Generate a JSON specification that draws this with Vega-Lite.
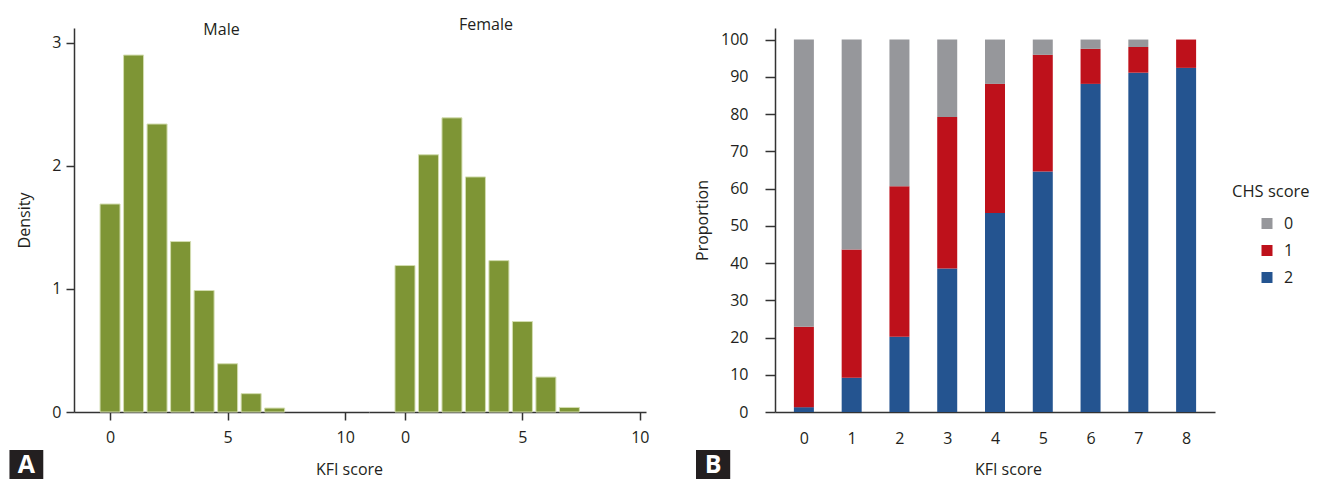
{
  "$schema": "https://vega.github.io/schema/vega-lite/v6.json",
  "padding": {"left": 9, "top": 16, "right": 0, "bottom": 0},
  "background": "white",
  "config": {
    "font": "Open Sans",
    "view": {"stroke": null},
    "axis": {
      "grid": false,
      "domainColor": "#333333",
      "domainWidth": 1.5,
      "tickColor": "#333333",
      "tickWidth": 1.5,
      "labelColor": "#231F20",
      "titleColor": "#231F20",
      "labelFontSize": 16,
      "titleFontSize": 16,
      "titleFontWeight": "normal",
      "labelFont": "Open Sans",
      "titleFont": "Open Sans",
      "labelOverlap": false
    },
    "legend": {"labelFont": "Open Sans", "titleFont": "Open Sans"},
    "title": {"font": "Open Sans"}
  },
  "datasets": {
    "hist": [
      {"sex": "Male", "kfi": 0, "density": 1.69},
      {"sex": "Male", "kfi": 1, "density": 2.9},
      {"sex": "Male", "kfi": 2, "density": 2.34},
      {"sex": "Male", "kfi": 3, "density": 1.385},
      {"sex": "Male", "kfi": 4, "density": 0.987},
      {"sex": "Male", "kfi": 5, "density": 0.392},
      {"sex": "Male", "kfi": 6, "density": 0.149},
      {"sex": "Male", "kfi": 7, "density": 0.032},
      {"sex": "Female", "kfi": 0, "density": 1.19},
      {"sex": "Female", "kfi": 1, "density": 2.09},
      {"sex": "Female", "kfi": 2, "density": 2.39},
      {"sex": "Female", "kfi": 3, "density": 1.91},
      {"sex": "Female", "kfi": 4, "density": 1.23},
      {"sex": "Female", "kfi": 5, "density": 0.735},
      {"sex": "Female", "kfi": 6, "density": 0.284},
      {"sex": "Female", "kfi": 7, "density": 0.037}
    ],
    "prop": [
      {"kfi": 0, "chs": "2", "pct": 1.3}, {"kfi": 0, "chs": "1", "pct": 21.6}, {"kfi": 0, "chs": "0", "pct": 77.1},
      {"kfi": 1, "chs": "2", "pct": 9.2}, {"kfi": 1, "chs": "1", "pct": 34.4}, {"kfi": 1, "chs": "0", "pct": 56.4},
      {"kfi": 2, "chs": "2", "pct": 20.2}, {"kfi": 2, "chs": "1", "pct": 40.4}, {"kfi": 2, "chs": "0", "pct": 39.4},
      {"kfi": 3, "chs": "2", "pct": 38.5}, {"kfi": 3, "chs": "1", "pct": 40.7}, {"kfi": 3, "chs": "0", "pct": 20.8},
      {"kfi": 4, "chs": "2", "pct": 53.4}, {"kfi": 4, "chs": "1", "pct": 34.7}, {"kfi": 4, "chs": "0", "pct": 11.9},
      {"kfi": 5, "chs": "2", "pct": 64.6}, {"kfi": 5, "chs": "1", "pct": 31.3}, {"kfi": 5, "chs": "0", "pct": 4.1},
      {"kfi": 6, "chs": "2", "pct": 88.1}, {"kfi": 6, "chs": "1", "pct": 9.4}, {"kfi": 6, "chs": "0", "pct": 2.5},
      {"kfi": 7, "chs": "2", "pct": 91.1}, {"kfi": 7, "chs": "1", "pct": 6.9}, {"kfi": 7, "chs": "0", "pct": 2.0},
      {"kfi": 8, "chs": "2", "pct": 92.4}, {"kfi": 8, "chs": "1", "pct": 7.6}, {"kfi": 8, "chs": "0", "pct": 0}
    ],
    "labelA": [{"label": "A"}],
    "labelB": [{"label": "B"}],
    "empty": []
  },
  "bounds": "flush",
  "spacing": 0,
  "hconcat": [
    {
      "width": 295,
      "height": 384,
      "title": {"text": "Male", "fontSize": 16, "fontWeight": "normal", "color": "#231F20", "baseline": "alphabetic", "offset": 0, "dy": 23.3},
      "layer": [
        {
          "data": {"name": "hist"},
          "transform": [{"filter": "datum.sex === 'Male'"}],
          "mark": {"type": "bar", "width": 20, "color": "#7E9535", "stroke": "#D3DDB0", "strokeWidth": 1},
          "encoding": {
            "x": {"field": "kfi", "type": "quantitative", "title": "KFI score",
              "scale": {"domain": [-1.32, 10.8], "nice": false, "zero": false},
              "axis": {"values": [0, 5, 10], "title": "KFI score", "tickSize": 8, "labelPadding": 9, "titleX": 275, "titleY": 62, "titleBaseline": "alphabetic"}},
            "y": {"field": "density", "type": "quantitative", "title": "Density",
              "scale": {"domain": [0, 3.12], "nice": false},
              "axis": {"values": [0, 1, 2, 3], "format": "d", "title": "Density", "tickSize": 8, "labelPadding": 5, "titlePadding": 19}}
          }
        },
        {
          "data": {"name": "labelA"},
          "mark": {"type": "rect", "color": "#231F20", "clip": false},
          "encoding": {
            "x": {"datum": -4.277, "type": "quantitative", "title": "KFI score",
              "axis": {"values": [0, 5, 10], "title": "KFI score", "tickSize": 8, "labelPadding": 9, "titleX": 275, "titleY": 62, "titleBaseline": "alphabetic"}},
            "x2": {"datum": -2.839},
            "y": {"datum": -0.3087, "type": "quantitative", "title": "Density",
              "axis": {"values": [0, 1, 2, 3], "format": "d", "title": "Density", "tickSize": 8, "labelPadding": 5, "titlePadding": 19}},
            "y2": {"datum": -0.5443}
          }
        },
        {
          "data": {"name": "labelA"},
          "mark": {"type": "text", "color": "white", "fontWeight": "bold", "fontSize": 25, "baseline": "middle", "align": "center", "clip": false},
          "encoding": {
            "text": {"field": "label"},
            "x": {"datum": -3.558, "type": "quantitative", "title": "KFI score",
              "axis": {"values": [0, 5, 10], "title": "KFI score", "tickSize": 8, "labelPadding": 9, "titleX": 275, "titleY": 62, "titleBaseline": "alphabetic"}},
            "y": {"datum": -0.4306, "type": "quantitative", "title": "Density",
              "axis": {"values": [0, 1, 2, 3], "format": "d", "title": "Density", "tickSize": 8, "labelPadding": 5, "titlePadding": 19}}
          }
        }
      ]
    },
    {
      "width": 277,
      "height": 384,
      "title": {"text": "Female", "fontSize": 16, "fontWeight": "normal", "color": "#231F20", "baseline": "alphabetic", "offset": 0, "dy": 17.6, "dx": -21.5},
      "data": {"name": "hist"},
      "transform": [{"filter": "datum.sex === 'Female'"}],
      "mark": {"type": "bar", "width": 20, "color": "#7E9535", "stroke": "#D3DDB0", "strokeWidth": 1},
      "encoding": {
        "x": {"field": "kfi", "type": "quantitative",
          "scale": {"domain": [-1.32, 10.05], "nice": false, "zero": false},
          "axis": {"values": [0, 5, 10], "title": null, "tickSize": 8, "labelPadding": 9}},
        "y": {"field": "density", "type": "quantitative",
          "scale": {"domain": [0, 3.12], "nice": false},
          "axis": null}
      }
    },
    {
      "width": 129,
      "height": 384,
      "data": {"name": "empty"},
      "mark": {"type": "point", "opacity": 0},
      "encoding": {}
    },
    {
      "width": 440,
      "height": 384,
      "layer": [
        {
          "data": {"name": "prop"},
          "mark": {"type": "bar", "width": 20},
          "encoding": {
            "x": {"field": "kfi", "type": "quantitative", "title": "KFI score",
              "scale": {"domain": [-0.5, 8.5], "nice": false, "zero": false},
              "axis": {"values": [0, 1, 2, 3, 4, 5, 6, 7, 8], "format": "d", "title": "KFI score", "ticks": false, "tickSize": 0, "labelPadding": 18, "titleX": 233, "titleY": 62, "titleBaseline": "alphabetic"}},
            "y": {"field": "pct", "type": "quantitative", "stack": "zero", "title": "Proportion",
              "scale": {"domain": [0, 103.1], "nice": false},
              "axis": {"values": [0, 10, 20, 30, 40, 50, 60, 70, 80, 90, 100], "tickCount": 11, "format": "d", "title": "Proportion", "tickSize": 10, "labelPadding": 17, "titlePadding": 10, "labelOverlap": false}},
            "color": {"field": "chs", "type": "nominal",
              "scale": {"domain": ["0", "1", "2"], "range": ["#96979B", "#BE111B", "#245490"]},
              "legend": {"title": "CHS score", "orient": "none", "legendX": 1158, "legendY": 156,
                "titleFontSize": 16.5, "titleFontWeight": "normal", "titleColor": "#231F20",
                "labelFontSize": 16, "labelColor": "#231F20",
                "symbolType": "square", "symbolSize": 121, "symbolStrokeWidth": 0,
                "symbolOffset": 27, "labelOffset": 9, "rowPadding": 11, "titlePadding": 15, "padding": 0}},
            "order": {"field": "chs", "sort": "descending"}
          }
        },
        {
          "data": {"name": "labelB"},
          "mark": {"type": "rect", "color": "#231F20", "clip": false},
          "encoding": {
            "x": {"datum": -2.258, "type": "quantitative", "title": "KFI score",
              "axis": {"values": [0, 1, 2, 3, 4, 5, 6, 7, 8], "format": "d", "title": "KFI score", "ticks": false, "tickSize": 0, "labelPadding": 18, "titleX": 233, "titleY": 62, "titleBaseline": "alphabetic"}},
            "x2": {"datum": -1.542},
            "y": {"datum": -10.2, "type": "quantitative", "title": "Proportion",
              "axis": {"values": [0, 10, 20, 30, 40, 50, 60, 70, 80, 90, 100], "tickCount": 11, "format": "d", "title": "Proportion", "tickSize": 10, "labelPadding": 17, "titlePadding": 10, "labelOverlap": false}},
            "y2": {"datum": -17.99}
          }
        },
        {
          "data": {"name": "labelB"},
          "mark": {"type": "text", "color": "white", "fontWeight": "bold", "fontSize": 25, "baseline": "middle", "align": "center", "clip": false},
          "encoding": {
            "text": {"field": "label"},
            "x": {"datum": -1.9, "type": "quantitative", "title": "KFI score",
              "axis": {"values": [0, 1, 2, 3, 4, 5, 6, 7, 8], "format": "d", "title": "KFI score", "ticks": false, "tickSize": 0, "labelPadding": 18, "titleX": 233, "titleY": 62, "titleBaseline": "alphabetic"}},
            "y": {"datum": -14.23, "type": "quantitative", "title": "Proportion",
              "axis": {"values": [0, 10, 20, 30, 40, 50, 60, 70, 80, 90, 100], "tickCount": 11, "format": "d", "title": "Proportion", "tickSize": 10, "labelPadding": 17, "titlePadding": 10, "labelOverlap": false}}
          }
        }
      ]
    }
  ]
}
